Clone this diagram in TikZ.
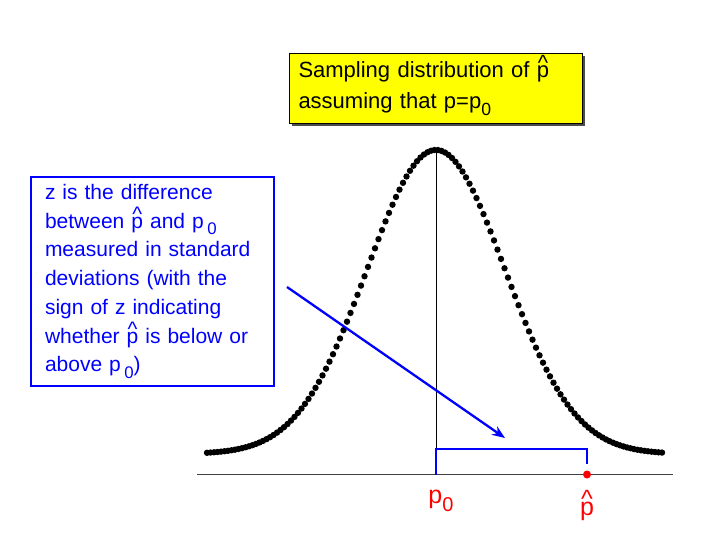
\documentclass[tikz,border=0pt]{standalone}
\usepackage{fontspec}
\setmainfont{Liberation Sans}
\usetikzlibrary{arrows.meta,shadows}
\definecolor{pureblue}{RGB}{0,0,255}
\definecolor{purered}{RGB}{255,0,0}
\definecolor{boxyellow}{RGB}{255,255,0}
\newcommand{\phat}{{\ooalign{p\cr\hidewidth\raisebox{.32em}{\textasciicircum}\hidewidth\cr}}}
\newcommand{\zsub}{\raisebox{-.32em}{\scalebox{.8}{0}}}
\newcommand{\pnull}{p\zsub}

\begin{document}
\begin{tikzpicture}[x=1pt,y=-1pt,every node/.style={align=left},note/.style={draw=pureblue,line width=2pt,text=pureblue,font=\fontsize{21}{28.7}\selectfont,inner xsep=14pt,inner ysep=0pt,text width=215pt,minimum height=209pt,anchor=north west},title/.style={draw=black,fill=boxyellow,line width=1pt,font=\fontsize{22}{31.5}\selectfont,inner xsep=9pt,inner ysep=0pt,text width=275pt,minimum height=70pt,anchor=north west,drop shadow={shadow xshift=2.5pt,shadow yshift=-2.5pt,fill=black!70,opacity=1}},lab/.style={text=purered,font=\fontsize{25}{25}\selectfont,inner sep=0pt}]
\useasboundingbox (0,0) rectangle (719,532);
\coordinate (axl) at (197,474.5);
\coordinate (axr) at (673,474.5);
\coordinate (peak) at (436,150);
\coordinate (p0) at (436,474.5);
\coordinate (ptop) at (436,449);
\coordinate (phtop) at (587,449);
\coordinate (phend) at (587,464);
\coordinate (phat) at (587,474.5);
\coordinate (tail) at (287,287);
\coordinate (head) at (505,438);
\node[title] (dist) at (289,53) {Sampling distribution of \phat\\assuming that p=\pnull};
\node[note] (zbox) at (30,176) {z is the difference\\between \phat\ and p\,\zsub\\measured in standard\\deviations (with the\\sign of z indicating\\whether \phat\ is below or\\above p\,\zsub)};
\foreach \x in {207,210.5,...,662}
  \fill (\x,{454-304*exp(-((\x-436)/69)^2/2)}) circle (3.2);
\draw[black!75,line width=1.3pt] (axl) -- (axr);
\draw[line width=1pt] (peak) -- (p0);
\draw[pureblue,line width=2.5pt] (p0) -- (ptop) -- (phtop) -- (phend);
\draw[pureblue,line width=2.3pt,-{Stealth[length=13pt,width=10pt]}] (tail) -- (head);
\fill[purered] (phat) circle (4);
\node[lab] (p0lab) at (441,501) {\pnull};
\node[lab] (phatlab) at (587,509) {\phat};
\end{tikzpicture}
\end{document}
